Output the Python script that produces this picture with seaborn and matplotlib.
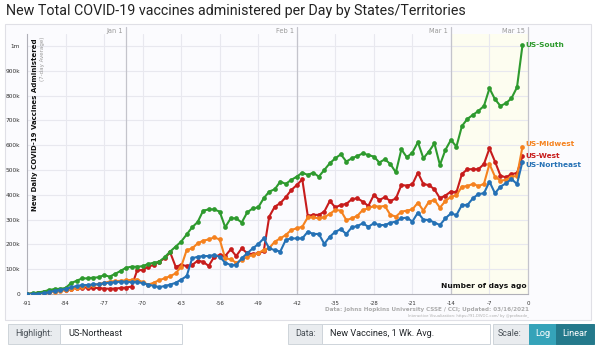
import matplotlib
matplotlib.use("Agg")
import matplotlib.pyplot as plt
import numpy as np
import pandas as pd
import seaborn as sns
from matplotlib.patches import Rectangle
from matplotlib.lines import Line2D

# ---- data (daily vaccines, 7-day average, in thousands) ----
days_ago = list(range(-91, 0))

us_south = [0, 3, 6, 10, 16, 20, 21, 24, 44, 53, 63, 63, 66, 67, 76, 70, 81, 93, 106, 110, 110, 112,
            121, 126, 130, 148, 171, 191, 211, 240, 269, 290, 336, 341, 341, 332, 269, 305, 305, 288,
            329, 345, 349, 386, 413,
            422, 453, 444, 460, 473, 489, 480, 489, 473, 500, 527, 547, 563, 534, 547, 556, 567, 560,
            554, 530, 543, 524, 490, 583, 551, 570, 612, 547, 574, 607, 520, 581, 621, 594, 677, 706,
            722, 738, 758, 829, 785, 758, 769, 789, 833, 1003]

us_midwest = [0, 1, 3, 5, 8, 10, 12, 15, 20, 25, 30, 33, 36, 40, 45, 50, 52, 53, 55, 57, 58, 48,
              38, 45, 56, 63, 72, 83, 110, 177, 184, 204, 215, 220, 228, 220, 144, 140, 126, 137,
              150, 157, 164, 178, 185,
              211, 224, 238, 258, 265, 271, 309, 309, 305, 309, 323, 339, 336, 298, 305, 315, 339,
              345, 355, 352, 355, 319, 312,
              332, 336, 341, 368, 336, 372, 379, 348, 375, 392, 398, 433, 435, 444, 435, 444, 524,
              473, 457, 460, 473, 476, 594]

us_west = [0, 2, 5, 8, 10, 13, 15, 18, 20, 24, 25, 26, 25, 24, 22, 21, 22, 24, 26, 30,
           95, 97,
           110, 117, 130, 144, 168, 110, 117, 113, 117, 134, 130, 113, 150, 157, 153, 180, 153, 184,
           164, 161, 164, 173,
           312, 352, 366, 390, 419, 439, 462, 315, 319, 319, 332, 375, 349, 359, 363, 382, 386, 372,
           355, 399, 379, 390, 375, 385,
           439, 437, 442, 489, 443, 439, 422, 386, 397, 413, 410, 484, 503, 503, 503, 524, 587, 534,
           477, 470, 484, 487, 556]

us_northeast = [0, 0, 1, 3, 7, 13, 16, 20, 27, 32, 36, 36, 39, 39, 43, 46, 47, 50, 50, 47, 50, 43,
                38, 33, 28, 32, 38, 45, 58, 72, 144, 150, 153, 153, 157, 150, 126, 117, 117, 144,
                164, 184, 201, 224,
                184, 177, 171, 218, 224, 224, 224, 251, 242, 242, 202, 231, 251, 261, 242, 269, 274,
                285, 271, 285, 278, 278, 287,
                292, 305, 308, 292, 328, 300, 298, 288, 278, 305, 325, 318, 359, 359, 386, 403, 406,
                453, 406, 433, 446, 464, 443, 534]

regions = ["US-West", "US-Midwest", "US-South", "US-Northeast"]
series = {"US-South": us_south, "US-Midwest": us_midwest,
          "US-West": us_west, "US-Northeast": us_northeast}
palette = {"US-South": "#2e9a2e", "US-Midwest": "#f5821f",
           "US-West": "#c71c1c", "US-Northeast": "#2571b5"}

y_ticks = [0, 100_000, 200_000, 300_000, 400_000, 500_000,
           600_000, 700_000, 800_000, 900_000, 1_000_000]
y_tick_labels = ["0", "100k", "200k", "300k", "400k", "500k",
                 "600k", "700k", "800k", "900k", "1m"]
x_ticks = list(range(-91, 1, 7))
month_days = [-73, -42, -14, 0]
month_labels = ["Jan 1", "Feb 1", "Mar 1", "Mar 15"]

df = pd.concat([
    pd.DataFrame({"days_ago": days_ago,
                  "vaccines": np.array(series[r]) * 1000,
                  "region": r})
    for r in regions
], ignore_index=True)

# ---- figure ----
sns.set_theme(style="white")
plt.rcParams["font.family"] = ["DejaVu Sans"]

W, H = 600, 346
fig = plt.figure(figsize=(W / 100, H / 100), dpi=100)
fig.patch.set_facecolor("white")


def fx(x):
    return x / W


def fy(y):
    return 1 - y / H


# outer chart card (behind the axes)
fig.patches.append(Rectangle((fx(5), fy(320)), fx(591) - fx(5), fy(24) - fy(320),
                             transform=fig.transFigure, facecolor="#fbfbfe",
                             edgecolor="#e0e0e6", lw=0.8, zorder=-10))

fig.text(fx(6), fy(11), "New Total COVID-19 vaccines administered per Day by States/Territories",
         fontsize=10.3, family="Roboto", color="#222222", va="center", ha="left")

ax = fig.add_axes([fx(27), fy(294), fx(528) - fx(27), fy(34) - fy(294)])
ax.set_zorder(1)
ax.set_facecolor("none")
ax.set_xlim(-91, 0)
ax.set_ylim(0, 1_048_000)

# highlighted recent window
ax.axvspan(-14, 0, color="#fdfdf0", zorder=0, lw=0)

# grid
for v in y_ticks[1:]:
    ax.axhline(v, color="#e8e8ef", lw=0.8, zorder=1)
for d in x_ticks[1:-1]:
    ax.axvline(d, color="#e8e8ef", lw=0.8, zorder=1)
for d, lab in zip(month_days, month_labels):
    ax.axvline(d, ymin=0, ymax=1.027, color="#c4c4cc", lw=0.9, zorder=1, clip_on=False)
    ax.text(d - 0.5, 1.012, lab, transform=ax.get_xaxis_transform(), ha="right", va="center",
            fontsize=4.8, color="#9a9a9a")

sns.lineplot(data=df, x="days_ago", y="vaccines", hue="region", hue_order=regions,
             palette=palette, marker="o", markersize=3.4, markeredgewidth=0,
             linewidth=1.5, legend=False, ax=ax, zorder=3)

# end-of-line labels (small nudges keep the three lower ones apart)
label_nudge = {"US-South": 0, "US-Midwest": 10_000, "US-West": 2_000, "US-Northeast": -14_000}
for r in ["US-South", "US-Midwest", "US-West", "US-Northeast"]:
    yv = series[r][-1] * 1000 + label_nudge[r]
    ax.text(-0.55, yv, r, color=palette[r], fontsize=5.3, fontweight="bold",
            ha="left", va="center", clip_on=False, zorder=5)

# axes styling
for s in ["top", "right"]:
    ax.spines[s].set_visible(False)
ax.spines["left"].set_color("#b0b0b8")
ax.spines["bottom"].set_color("#b0b0b8")
ax.spines["left"].set_linewidth(0.8)
ax.spines["bottom"].set_linewidth(0.8)
ax.set_yticks(y_ticks)
ax.set_yticklabels(y_tick_labels)
ax.set_xticks(x_ticks)
ax.set_xticklabels([str(t) for t in x_ticks])
ax.tick_params(axis="both", direction="out", length=3, width=0.6, color="#b0b0b8",
               labelsize=4.2, labelcolor="#333333", pad=2)
ax.tick_params(axis="x", labelsize=3.9)
ax.set_xlabel("")
ax.set_ylabel("")

ax.text(0.010, 0.985, "New Daily COVID-19 Vaccines Administered", transform=ax.transAxes,
        rotation=90, ha="left", va="top", fontsize=5.0, fontweight="bold", color="#111111")
ax.text(0.025, 0.99, "(7-day Average)", transform=ax.transAxes,
        rotation=90, ha="left", va="top", fontsize=4.0, color="#999999")
ax.text(-0.3, 0.03, "Number of days ago", transform=ax.get_xaxis_transform(),
        ha="right", va="center", fontsize=5.4, fontweight="bold", color="#111111")

fig.text(fx(529), fy(310), "Data: Johns Hopkins University CSSE / CCI; Updated: 03/16/2021",
         ha="right", va="center", fontsize=4.1, fontweight="bold", color="#ababab")
fig.text(fx(529), fy(316.5), "Interactive Visualization: https://91-DIVOC.com/ by @profwade_",
         ha="right", va="center", fontsize=2.7, color="#ababab")

# ---- control bar ----
top, bot = 324, 344
ymid = (top + bot) / 2


def box(x0, x1, face, edge="#ced4da"):
    fig.patches.append(Rectangle((fx(x0), fy(bot)), fx(x1) - fx(x0), fy(top) - fy(bot),
                                 transform=fig.transFigure, facecolor=face, edgecolor=edge,
                                 lw=0.7, zorder=2))


def chevron(x):
    fig.lines.append(Line2D([fx(x - 2), fx(x), fx(x + 2)],
                            [fy(ymid - 1), fy(ymid + 1), fy(ymid - 1)],
                            transform=fig.transFigure, color="#333333", lw=0.8))


box(8, 60, "#e9ecef")
box(60, 182, "white")
fig.text(fx(15), fy(ymid), "Highlight:", family="Roboto", fontsize=6.4, color="#495057", va="center")
fig.text(fx(68), fy(ymid), "US-Northeast", family="Roboto", fontsize=6.6, color="#212529", va="center")
chevron(176)

box(288, 322, "#e9ecef")
box(322, 490, "white")
fig.text(fx(295), fy(ymid), "Data:", family="Roboto", fontsize=6.4, color="#495057", va="center")
fig.text(fx(330), fy(ymid), "New Vaccines, 1 Wk. Avg.", family="Roboto", fontsize=6.6,
         color="#212529", va="center")
chevron(485)

box(493, 529, "#e9ecef")
box(529, 556, "#35a3b9", edge="#35a3b9")
box(556, 594, "#24798b", edge="#24798b")
fig.text(fx(498), fy(ymid), "Scale:", family="Roboto", fontsize=6.4, color="#495057", va="center")
fig.text(fx(542.5), fy(ymid), "Log", family="Roboto", fontsize=6.6, color="white",
         va="center", ha="center")
fig.text(fx(575), fy(ymid), "Linear", family="Roboto", fontsize=6.6, color="white",
         va="center", ha="center")

fig.savefig("out.png", dpi=100, facecolor="white")
